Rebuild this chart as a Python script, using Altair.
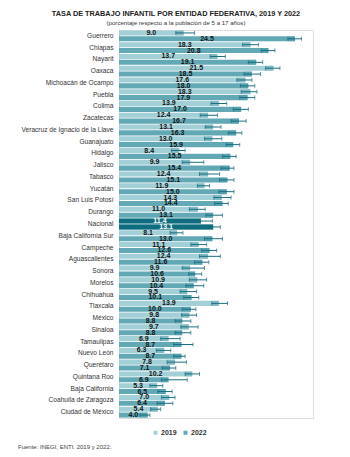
import altair as alt
import pandas as pd

states = ["Guerrero", "Chiapas", "Nayarit", "Oaxaca", "Michoacán de Ocampo", "Puebla",
          "Colima", "Zacatecas", "Veracruz de Ignacio de la Llave", "Guanajuato", "Hidalgo",
          "Jalisco", "Tabasco", "Yucatán", "San Luis Potosí", "Durango", "Nacional",
          "Baja California Sur", "Campeche", "Aguascalientes", "Sonora", "Morelos",
          "Chihuahua", "Tlaxcala", "México", "Sinaloa", "Tamaulipas", "Nuevo León",
          "Querétaro", "Quintana Roo", "Baja California", "Coahuila de Zaragoza",
          "Ciudad de México"]

v2019 = [9.0, 18.3, 13.7, 21.5, 17.6, 18.3, 13.9, 12.4, 13.1, 13.0, 8.4, 9.9, 12.4, 11.9,
         14.3, 11.0, 11.4, 8.1, 11.1, 12.4, 9.9, 10.9, 9.5, 13.9, 9.8, 9.7, 6.9, 6.3, 7.8,
         10.2, 5.3, 7.0, 5.4]
v2022 = [24.5, 20.8, 19.1, 18.5, 18.0, 17.9, 17.0, 16.7, 16.3, 15.9, 15.5, 15.4, 15.1, 15.0,
         14.4, 13.1, 13.1, 13.0, 12.6, 11.6, 10.6, 10.4, 10.1, 10.0, 8.8, 8.8, 8.7, 8.7, 7.1,
         6.9, 6.5, 6.4, 4.0]
lo2019 = [7.9, 17.2, 12.7, 20.4, 16.4, 17.0, 12.8, 11.3, 12.0, 11.9, 7.3, 8.8, 11.2, 10.9,
          13.2, 9.8, 9.9, 7.1, 10.0, 11.2, 8.8, 9.8, 8.5, 12.9, 8.7, 8.6, 5.8, 5.2, 6.7,
          9.2, 4.3, 5.9, 4.4]
hi2019 = [10.5, 19.4, 14.8, 22.4, 18.5, 19.2, 15.0, 13.7, 14.2, 14.3, 9.2, 11.8, 14.0, 12.6,
          15.6, 12.0, 13.0, 8.9, 12.2, 14.1, 11.9, 12.2, 10.8, 15.1, 10.8, 11.0, 8.5, 7.2,
          9.4, 11.2, 6.1, 7.8, 5.8]
lo2022 = [23.5, 19.8, 18.0, 17.4, 16.9, 16.8, 15.9, 15.6, 15.2, 14.9, 14.4, 14.2, 14.0, 13.9,
          13.3, 12.1, 12.2, 11.9, 11.5, 10.5, 9.7, 9.3, 9.0, 8.8, 7.8, 7.8, 7.6, 7.6, 6.0,
          5.9, 5.4, 5.3, 2.9]
hi2022 = [25.4, 21.7, 20.0, 19.7, 18.9, 18.9, 18.0, 17.7, 17.1, 16.8, 16.3, 16.0, 16.0, 16.0,
          15.2, 14.4, 14.1, 14.4, 13.6, 12.5, 11.5, 11.8, 11.1, 10.7, 10.0, 10.0, 10.3, 9.2,
          7.9, 9.5, 7.4, 7.5, 4.3]

years = ["2019", "2022"]
title_text = "TASA DE TRABAJO INFANTIL POR ENTIDAD FEDERATIVA, 2019 Y 2022"
subtitle_text = "(porcentaje respecto a la población de 5 a 17 años)"
source_text = "Fuente: INEGI, ENTI. 2019 y 2022."

rows = []
for i, s in enumerate(states):
    rows.append(dict(estado=s, anio="2019", valor=v2019[i], lo=lo2019[i], hi=hi2019[i]))
    rows.append(dict(estado=s, anio="2022", valor=v2022[i], lo=lo2022[i], hi=hi2022[i]))
df = pd.DataFrame(rows)

FONT = "Liberation Sans"
LIGHT = "#A3CFD7"
MID = "#62A8B5"
DARK = "#0F6C7E"
ERR = "#1B6E7F"

y = alt.Y("estado:N", sort=states,
          scale=alt.Scale(paddingInner=0, paddingOuter=0),
          axis=alt.Axis(title=None, ticks=False, domain=False, grid=False,
                        labelFontSize=6.6, labelColor="#333333", labelFont=FONT,
                        labelPadding=6, labelLimit=200))
yo = alt.YOffset("anio:N", sort=years,
                 scale=alt.Scale(paddingInner=0.14, paddingOuter=0.07))
xscale = alt.Scale(domain=[0, 27], nice=False, zero=True)

base = alt.Chart(df)

bars = base.mark_bar().encode(
    y=y, yOffset=yo,
    x=alt.X("valor:Q", scale=xscale, axis=None),
    color=alt.Color("anio:N", scale=alt.Scale(domain=years, range=[LIGHT, MID]),
                    legend=alt.Legend(title=None, orient="none", legendX=33, legendY=399,
                                      direction="horizontal", symbolType="square",
                                      symbolSize=16, symbolStrokeWidth=0,
                                      labelFontSize=7, labelFontWeight="bold",
                                      labelFont=FONT, labelColor="#333333",
                                      columnPadding=5, labelOffset=2)),
)

boxes = base.transform_filter(alt.datum.estado != "Nacional").mark_bar(
    color="#3A8E9E", opacity=0.32).encode(
    y=y, yOffset=yo,
    x=alt.X("lo:Q", scale=xscale, axis=None),
    x2="valor:Q",
)

nac = base.transform_filter(alt.datum.estado == "Nacional").mark_bar(color=DARK).encode(
    y=y, yOffset=yo,
    x=alt.X("valor:Q", scale=xscale, axis=None),
)

rules = base.mark_rule(color=ERR, strokeWidth=1).encode(
    y=y, yOffset=yo,
    x=alt.X("lo:Q", scale=xscale, axis=None),
    x2="hi:Q",
)

cap_lo = base.mark_tick(color=ERR, thickness=1, size=4, orient="vertical").encode(
    y=y, yOffset=yo, x=alt.X("lo:Q", scale=xscale, axis=None))
cap_hi = base.mark_tick(color=ERR, thickness=1, size=4, orient="vertical").encode(
    y=y, yOffset=yo, x=alt.X("hi:Q", scale=xscale, axis=None))

labels = base.transform_calculate(mid="datum.valor / 2").mark_text(
    font=FONT, fontSize=7, fontWeight="bold", align="center", baseline="middle").encode(
    y=y, yOffset=yo,
    x=alt.X("mid:Q", scale=xscale, axis=None),
    text=alt.Text("valor:Q", format=".1f"),
    color=alt.condition(alt.datum.estado == "Nacional", alt.value("white"),
                        alt.value("#111111")),
)

source = alt.Chart(pd.DataFrame({"t": [source_text]})).mark_text(
    font=FONT, fontSize=6, color="#444444", align="left", baseline="middle").encode(
    text="t:N", x=alt.value(-101), y=alt.value(417))

chart = alt.layer(bars, boxes, nac, rules, cap_lo, cap_hi, labels, source).properties(
    width=194, height=388,
    autosize=alt.AutoSizeParams(type="none"),
    padding={"left": 119, "top": 30, "right": 37, "bottom": 39},
    title=alt.Title(title_text, subtitle=subtitle_text, anchor="middle", frame="group",
                    dx=-40, font=FONT, fontSize=7.3, fontWeight="bold", color="#222222",
                    subtitleFont=FONT, subtitleFontSize=6.1, subtitleColor="#333333",
                    subtitlePadding=3, offset=3),
).configure_view(stroke=None).configure(background="white")

chart.save("out.html", embed_options={"renderer": "svg", "actions": False})
